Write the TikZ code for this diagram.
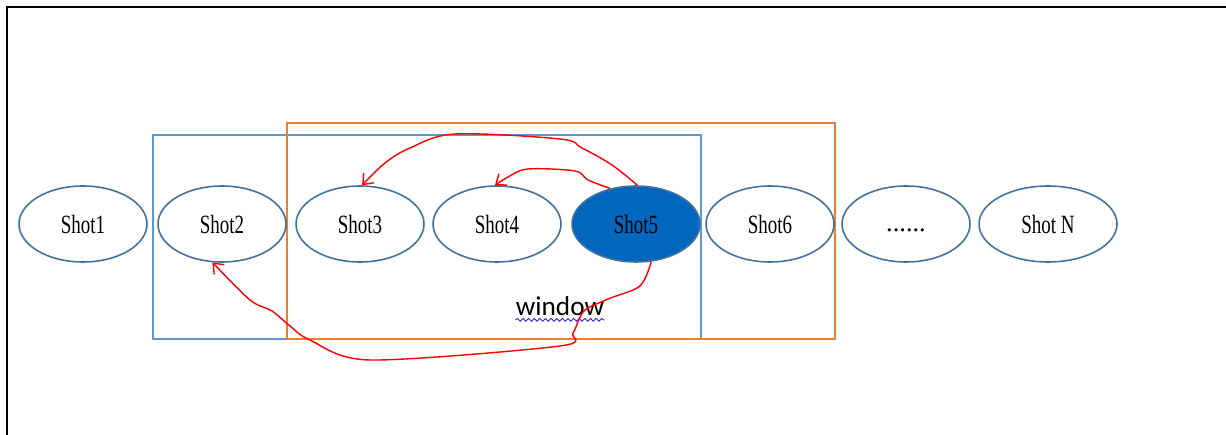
\documentclass[tikz,border=0pt]{standalone}
\usepackage{fontspec}
\usetikzlibrary{arrows.meta,decorations.pathmorphing,shapes.geometric}
\newfontfamily\shotfont[FakeStretch=0.72]{Liberation Serif}
\newfontfamily\dotsfont{Liberation Serif}
\newfontfamily\labelfont{Carlito}
\definecolor{shotline}{RGB}{65,113,156}
\definecolor{shotfill}{RGB}{0,102,190}
\definecolor{winblue}{RGB}{91,155,213}
\definecolor{winorange}{RGB}{237,125,49}
\definecolor{spellblue}{RGB}{40,40,230}
\tikzset{
  shot/.style={ellipse, draw=shotline, line width=0.9pt, minimum width=2.56cm,
    minimum height=1.52cm, inner sep=0pt, font=\shotfont\fontsize{15}{15}\selectfont},
  winbox/.style={line width=0.9pt},
  jump/.style={draw=red, line width=0.8pt, line join=round,
    -{Straight Barb[length=5pt,width=8pt]}},
}
\begin{document}
\begin{tikzpicture}[x=0.02cm,y=-0.02cm]
  \useasboundingbox (0,0) rectangle (1226,435);
  % page frame (left and top edges)
  \draw[line width=1.1pt] (7,435) -- (7,7) -- (1226,7);

  % sliding windows
  \draw[winbox, draw=winblue] (153,135) rectangle (701,339);
  \draw[winbox, draw=winorange] (287,123) rectangle (835,339);

  % shots
  \node[shot] (s1) at (83,224) {Shot1};
  \node[shot, fill=white] (s2) at (222,224) {Shot2};
  \node[shot] (s3) at (360,224) {Shot3};
  \node[shot] (s4) at (497,224) {Shot4};
  \node[shot, fill=shotfill] (s5) at (636,224) {Shot5};
  \node[shot] (s6) at (770,224) {Shot6};
  \node[shot, font=\dotsfont\fontsize{15}{15}\selectfont,
    text height=9pt, text depth=0pt] (sd) at (906,224) {......};
  \node[shot, minimum width=2.76cm] (sn) at (1048,224) {Shot N};

  % window label with spell-check underline
  \node[font=\labelfont\fontsize{15.5}{15.5}\selectfont, inner sep=0pt, anchor=base]
    (win) at (560,316) {window};
  \draw[spellblue, line width=0.5pt, decorate,
    decoration={snake, amplitude=0.8, segment length=3.2}]
    ([yshift=-2.2pt]win.base west) -- ([yshift=-2.2pt]win.base east);

  % references from the current shot back to earlier shots
  \draw[jump] plot[smooth, tension=0.55] coordinates
    {(s5.88) (612,165) (582,148) (560,139) (455,134) (410,148) (385,163) (s3.87)};
  \draw[jump] plot[smooth, tension=0.55] coordinates
    {(s5.126) (588,180) (575,171) (528,169) (508,177) (s4.93)};
  \draw[jump] plot[smooth, tension=0.5] coordinates
    {(s5.-68) (640,286) (608,299) (584,311) (573,333) (560,346) (370,360)
     (310,340) (290,326) (272,311) (250,300) (s2.-104)};
\end{tikzpicture}
\end{document}
